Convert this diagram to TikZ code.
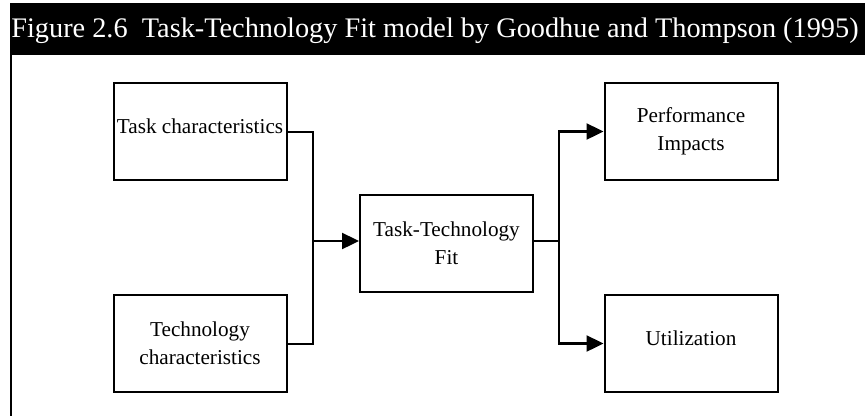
\documentclass[tikz,border=0pt]{standalone}
\usepackage{fontspec}
\setmainfont{Liberation Serif}
\usetikzlibrary{arrows.meta}
\tikzset{
  box/.style={draw,line width=2pt,minimum width=173pt,minimum height=97pt,
    align=center,inner sep=1pt,font=\fontsize{21.2}{28}\selectfont},
  oneline/.style={text height=14pt,text depth=11pt},
  link/.style={line width=2pt},
  arr/.style={line width=2.4pt,-{Triangle[length=17pt,width=16pt]}},
}
\begin{document}
\begin{tikzpicture}[x=1pt,y=-1pt]
      \useasboundingbox (0,0) rectangle (865,416);
      % heading bar and frame
      \fill[black] (10,3) rectangle (865,55);
      \draw[line width=2pt] (11,55)--(11,416);
      \path (435,31) node[text=white,font=\fontsize{28.3}{32}\selectfont] (title)
        {Figure 2.6\ \ Task-Technology Fit model by Goodhue and Thompson (1995)};
      % boxes
      \path (200,131.5) node[box,oneline] (task) {Task characteristics};
      \path (200,343.5) node[box] (tech) {Technology\\characteristics};
      \path (446.5,243.5) node[box] (ttf) {Task-Technology\\Fit};
      \path (691,131.5) node[box] (perf) {Performance\\Impacts};
      \path (691,343.5) node[box,oneline] (util) {Utilization};
      % connectors
      \coordinate (jin) at (313,241);
      \coordinate (jout) at (559,241);
      \draw[link] (task.east) -| (jin);
      \draw[link] (tech.east) -| (jin);
      \draw[arr] (jin) -- (ttf.west |- jin);
      \draw[link] (ttf.east |- jout) -- (jout);
      \draw[arr] (jout) |- (perf.west);
      \draw[arr] (jout) |- (util.west);
\end{tikzpicture}
\end{document}
